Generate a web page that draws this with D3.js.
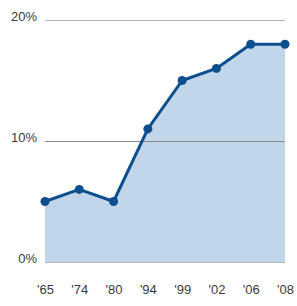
<!DOCTYPE html>
<html>
<head>
<meta charset="utf-8">
<script src="https://d3js.org/d3.v7.min.js"></script>
<style>
  body { margin: 0; background: #fff; }
  text { font-family: "Liberation Sans", Arial, sans-serif; }
</style>
</head>
<body>
<svg id="chart"></svg>
<script>
var years = ["'65", "'74", "'80", "'94", "'99", "'02", "'06", "'08"];
var values = [5, 6, 5, 11, 15, 16, 18, 18];
var yTicks = [0, 10, 20];

var W = 297, H = 306;
var margin = {top: 20, right: 12, bottom: 44, left: 45},
    width = W - margin.left - margin.right,
    height = H - margin.top - margin.bottom;

var svg = d3.select("#chart")
    .attr("width", W)
    .attr("height", H)
  .append("g")
    .attr("transform", "translate(" + margin.left + "," + margin.top + ")");

var x = d3.scalePoint().domain(years).range([0, width]);
var y = d3.scaleLinear().domain([0, 20]).range([height, 0]);

var data = years.map(function(d, i) { return {x: d, y: values[i]}; });

// area fill
svg.append("path")
    .datum(data)
    .attr("fill", "#c2d6ea")
    .attr("d", d3.area()
        .x(function(d) { return x(d.x); })
        .y0(height)
        .y1(function(d) { return y(d.y); }));

// gridlines + y labels (label baseline sits on the line)
var yAxis = svg.append("g")
    .call(d3.axisLeft(y).tickValues(yTicks).tickSize(-width)
        .tickFormat(function(d) { return d + "%"; }));
yAxis.select(".domain").remove();
yAxis.selectAll(".tick line")
    .attr("stroke", function(d) { return d === 10 ? "#8a8a8a" : "#b5b5b5"; })
    .attr("stroke-width", 1);
yAxis.selectAll(".tick text")
    .attr("x", -8)
    .attr("dy", "0")
    .attr("fill", "#3a3a3a")
    .style("font-size", "13px");

// line
svg.append("path")
    .datum(data)
    .attr("fill", "none")
    .attr("stroke", "#0d4f8e")
    .attr("stroke-width", 3)
    .attr("stroke-linejoin", "round")
    .attr("d", d3.line()
        .x(function(d) { return x(d.x); })
        .y(function(d) { return y(d.y); }));

svg.selectAll(".dot")
    .data(data)
  .enter().append("circle")
    .attr("class", "dot")
    .attr("cx", function(d) { return x(d.x); })
    .attr("cy", function(d) { return y(d.y); })
    .attr("r", 4.5)
    .attr("fill", "#0d4f8e");

// x labels
var xAxis = svg.append("g")
    .attr("transform", "translate(0," + height + ")")
    .call(d3.axisBottom(x).tickSize(0).tickPadding(23));
xAxis.select(".domain").remove();
xAxis.selectAll(".tick text")
    .attr("fill", "#3a3a3a")
    .style("font-size", "13px");
</script>
</body>
</html>
